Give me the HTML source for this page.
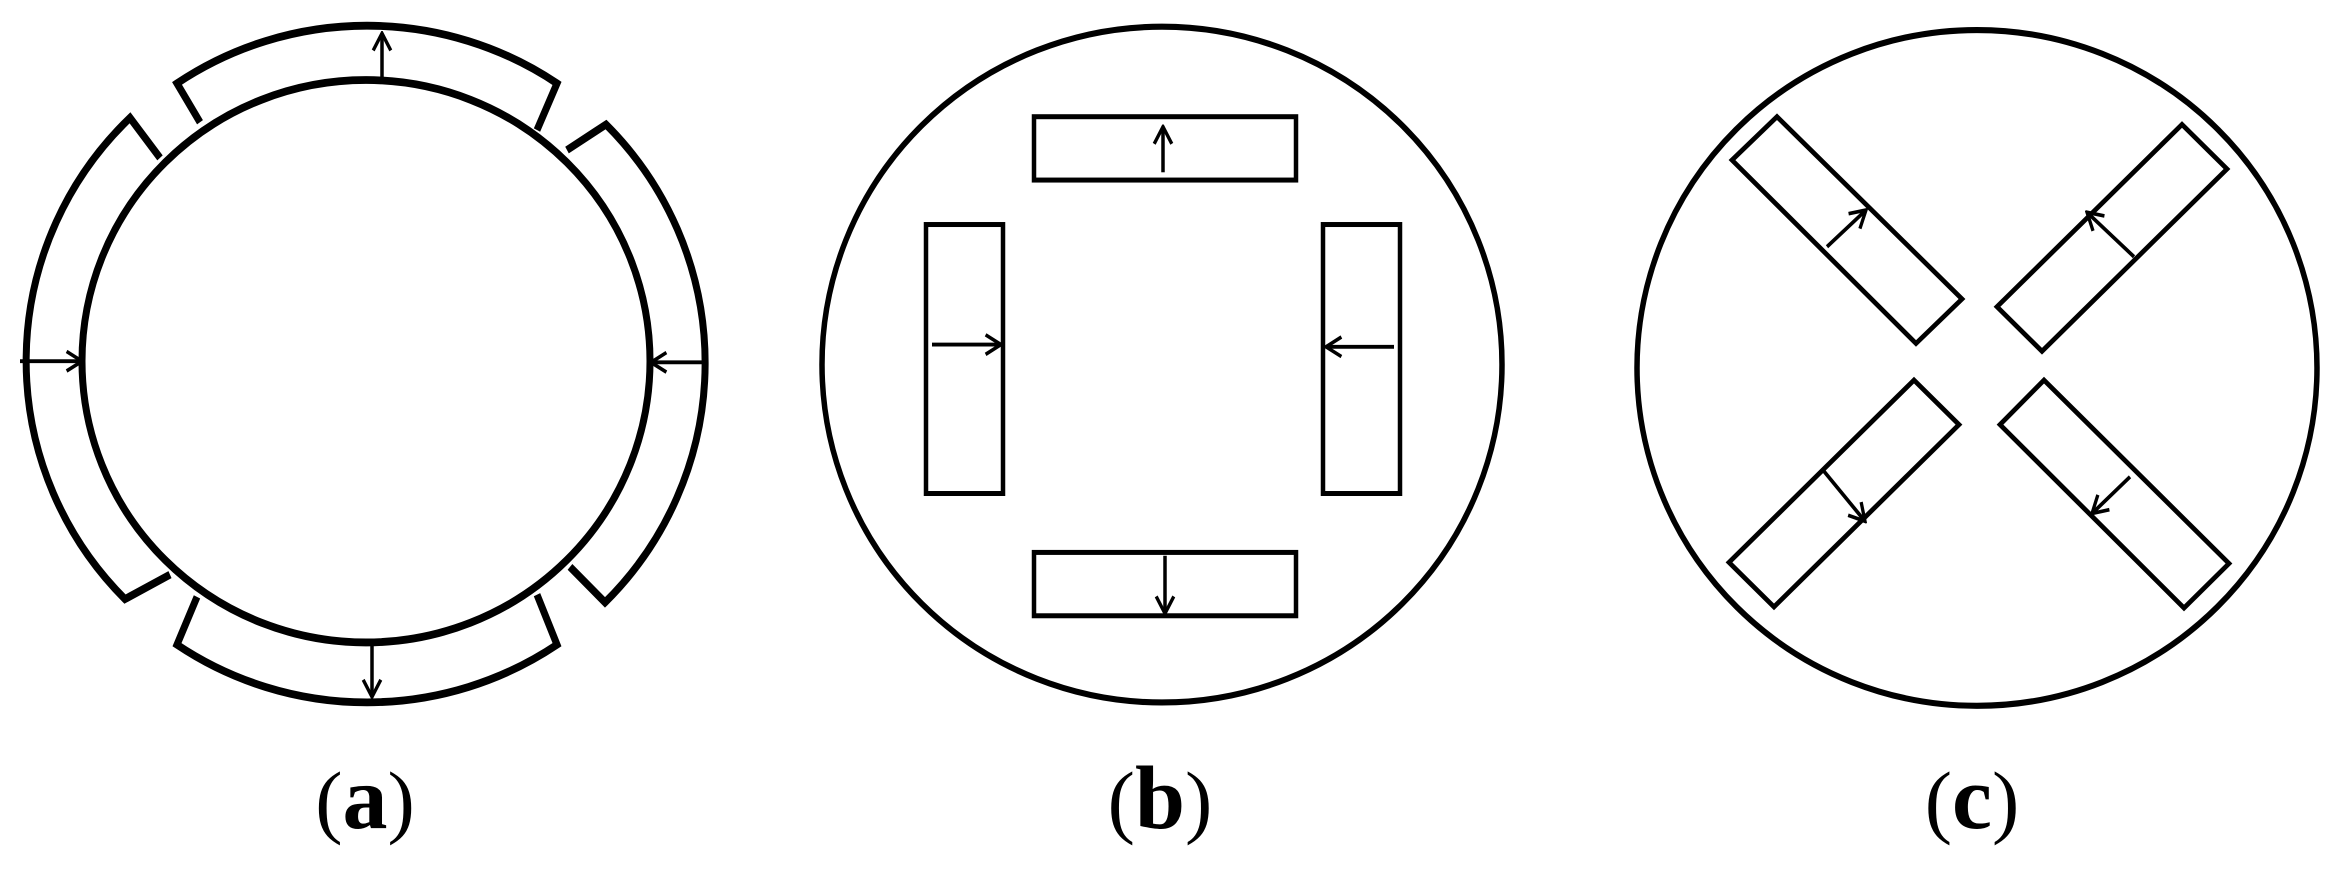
<!DOCTYPE html>
<html><head><style>html,body{margin:0;padding:0;background:#fff;}svg{display:block}</style></head>
<body>
<svg width="2340" height="873" viewBox="0 0 2340 873" xmlns="http://www.w3.org/2000/svg">
<defs>
<marker id="ah" viewBox="0 0 20 20" refX="18" refY="10" markerWidth="22" markerHeight="22" markerUnits="userSpaceOnUse" orient="auto">
<polyline points="4,2 18,10 4,18" fill="none" stroke="#000" stroke-width="3"/>
</marker>
</defs>
<g fill="none" stroke="#000" stroke-linejoin="miter" transform="scale(1,1.1115)">
<!-- (a) -->
<ellipse cx="366" cy="325" rx="284" ry="253" stroke-width="7"/>
<path d="M200,110 L177,75 A340 304 0 0 1 557,75 L537,117" stroke-width="7"/>
<path d="M160,142 L130,106 A340 304 0 0 0 125,539 L170,517" stroke-width="7"/>
<path d="M567,135 L606,112 A340 304 0 0 1 605,542 L570,510" stroke-width="7"/>
<path d="M197,537 L177,580 A340 304 0 0 0 557,580 L537,535" stroke-width="7"/>
<g stroke-width="3.5" marker-end="url(#ah)">
<line x1="382" y1="72" x2="382" y2="30"/>
<line x1="20" y1="325" x2="82" y2="325"/>
<line x1="706" y1="326" x2="651" y2="326"/>
<line x1="372" y1="578" x2="372" y2="627"/>
</g>
<!-- (b) -->
<ellipse cx="1162" cy="328" rx="340" ry="304" stroke-width="5.5"/>
<g stroke-width="4.5">
<rect x="1034" y="105" width="262" height="57"/>
<rect x="926" y="202" width="77" height="242"/>
<rect x="1323" y="202" width="77" height="242"/>
<rect x="1034" y="497" width="262" height="57"/>
</g>
<g stroke-width="3.5" marker-end="url(#ah)">
<line x1="1163" y1="155" x2="1163" y2="114"/>
<line x1="932" y1="310" x2="1001" y2="310"/>
<line x1="1394" y1="312" x2="1326" y2="312"/>
<line x1="1165" y1="500" x2="1165" y2="552"/>
</g>
<!-- (c) -->
<ellipse cx="1977" cy="331" rx="340" ry="304" stroke-width="5.5"/>
<g stroke-width="4.5">
<polygon points="1777,105 1962,269 1916,309 1732,144"/>
<polygon points="2182,112 2227,152 2042,316 1997,276"/>
<polygon points="1914,342 1959,382 1774,546 1729,506"/>
<polygon points="2044,342 2229,507 2184,547 2000,382"/>
</g>
<g stroke-width="3.5" marker-end="url(#ah)">
<line x1="1827" y1="222" x2="1866" y2="189"/>
<line x1="2134" y1="231" x2="2087" y2="191"/>
<line x1="1824" y1="424" x2="1865" y2="469"/>
<line x1="2130" y1="429" x2="2092" y2="462"/>
</g>
</g>
<g font-family="'Liberation Serif', serif" font-size="82" text-anchor="middle">
<text x="365" y="828">(<tspan font-weight="bold" font-size="90">a</tspan>)</text>
<text x="1160" y="828">(<tspan font-weight="bold" font-size="90">b</tspan>)</text>
<text x="1972" y="828">(<tspan font-weight="bold" font-size="90">c</tspan>)</text>
</g>
</svg>
</body></html>
